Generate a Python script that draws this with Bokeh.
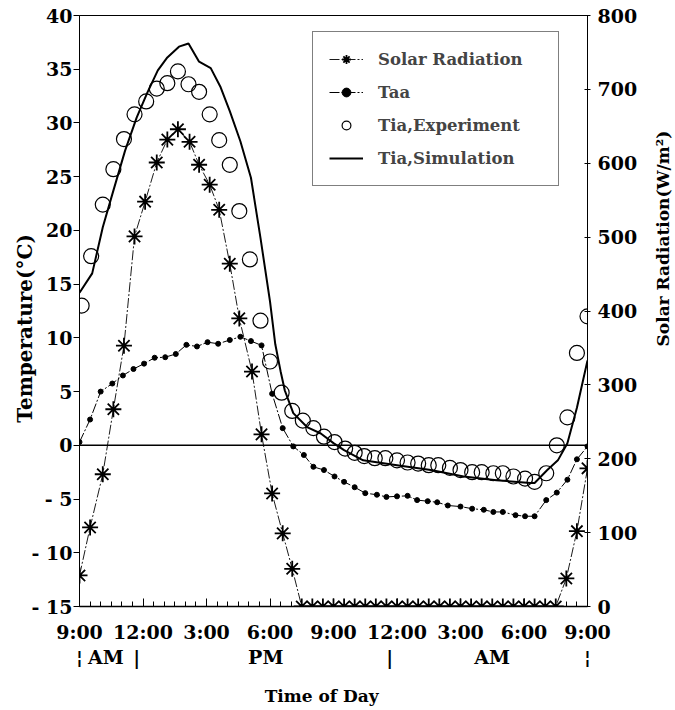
import math
from bokeh.plotting import figure
from bokeh.layouts import row
from bokeh.models import (Range1d, LinearAxis, FixedTicker, Span, Legend, LegendItem, Label)
from bokeh.embed import file_html
from bokeh.resources import INLINE

# ---------------- data (hours after 9:00 AM) ----------------
solar_h = [0, 0.5, 1.1, 1.6, 2.1, 2.6, 3.1, 3.65, 4.15, 4.65, 5.2, 5.65, 6.15, 6.6,
           7.1, 7.55, 8.15, 8.6, 9.1, 9.6, 10.05, 10.5, 11.0, 11.5, 12.0, 12.5, 13.0,
           13.5, 14.0, 14.5, 15.0, 15.5, 16.0, 16.5, 17.0, 17.5, 18.0, 18.5, 19.0,
           19.5, 20.0, 20.5, 21.0, 21.5, 22.0, 22.5, 23.0, 23.5, 24.0]
solar_w = [42, 107, 179, 267, 353, 501, 548, 601, 632, 646, 629, 598, 571, 537,
           464, 390, 318, 233, 153, 99, 51, 0, 0, 0, 0, 0, 0,
           0, 0, 0, 0, 0, 0, 0, 0, 0, 0, 0, 0,
           0, 0, 0, 0, 0, 0, 0, 38, 102, 187]

taa_h = [0, 0.5, 1.0, 1.55, 2.05, 2.55, 3.05, 3.55, 4.05, 4.55, 5.05, 5.55, 6.05,
         6.55, 7.1, 7.6, 8.1, 8.6, 9.1, 9.6, 10.1, 10.6, 11.05, 11.55, 12.05, 12.5,
         13.0, 13.5, 14.05, 14.5, 15.0, 15.5, 15.95, 16.45, 16.9, 17.4, 18.0, 18.55,
         19.1, 19.55, 20.0, 20.6, 21.05, 21.5, 22.05, 22.55, 23.05, 23.5, 24.0]
taa_t = [0.3, 2.4, 5.0, 5.75, 6.5, 7.1, 7.6, 8.15, 8.2, 8.5, 9.35, 9.2, 9.6,
         9.45, 9.8, 10.1, 9.7, 9.3, 4.8, 1.6, -0.1, -0.9, -2.0, -2.3, -2.9, -3.4,
         -3.9, -4.45, -4.6, -4.8, -4.75, -4.7, -5.1, -5.2, -5.3, -5.6, -5.7, -5.9,
         -6.0, -6.2, -6.2, -6.5, -6.6, -6.6, -5.1, -4.4, -3.2, -1.3, -0.1]

exp_h = [0.1, 0.55, 1.1, 1.6, 2.1, 2.6, 3.15, 3.65, 4.15, 4.65, 5.15, 5.65, 6.15,
         6.6, 7.1, 7.55, 8.05, 8.55, 9.0, 9.55, 10.05, 10.55, 11.05, 11.55, 12.05,
         12.55, 13.0, 13.45, 13.95, 14.45, 15.0, 15.5, 16.0, 16.5, 16.95, 17.5, 18.0,
         18.55, 19.0, 19.55, 20.0, 20.5, 21.05, 21.5, 22.05, 22.55, 23.05, 23.5, 24.0]
exp_t = [13.0, 17.6, 22.4, 25.7, 28.5, 30.8, 32.0, 33.2, 33.7, 34.8, 33.6, 32.9, 30.8,
         28.4, 26.1, 21.8, 17.3, 11.6, 7.8, 4.9, 3.2, 2.3, 1.6, 0.8, 0.3,
         -0.3, -0.7, -1.0, -1.2, -1.2, -1.4, -1.6, -1.7, -1.85, -1.85, -2.1, -2.3,
         -2.5, -2.5, -2.6, -2.6, -2.9, -3.1, -3.4, -2.6, 0.0, 2.6, 8.6, 12.0]

sim_h = [0, 0.6, 1.1, 1.6, 2.15, 2.7, 3.2, 3.7, 4.15, 4.7, 5.15, 5.65, 6.2, 6.65,
         7.1, 7.6, 8.1, 8.55, 9.0, 9.25, 9.5, 9.7, 10.1, 10.75, 11.4, 12.0, 12.5,
         13.4, 15.0, 16.6, 18.15, 19.7, 21.3, 21.5, 22.1, 22.6, 23.05, 23.5, 24.0]
sim_t = [14.2, 16.0, 20.3, 23.7, 27.4, 30.5, 32.8, 34.9, 36.1, 37.1, 37.4, 35.7, 35.1,
         33.4, 31.1, 28.3, 24.9, 19.3, 13.4, 9.4, 6.9, 5.1, 3.0, 1.7, 1.1, 0.2, -0.45,
         -1.4, -1.85, -2.3, -2.9, -3.25, -3.5, -3.5, -2.3, -1.4, 0.2, 3.5, 7.9]

x_ticks = [0, 3, 6, 9, 12, 15, 18, 21, 24]
x_tick_labels = ["9:00", "12:00", "3:00", "6:00", "9:00", "12:00", "3:00", "6:00", "9:00"]
y_ticks = [-15, -10, -5, 0, 5, 10, 15, 20, 25, 30, 35, 40]
y_tick_labels = ["- 15", "- 10", "- 5", "0", "5", "10", "15", "20", "25", "30", "35", "40"]
y2_ticks = [0, 100, 200, 300, 400, 500, 600, 700, 800]
period_pos = [1.25, 8.8, 19.5]
period_labels = ["AM", "PM", "AM"]
period_bar_pos = [0, 2.7, 14.65, 24]
period_bar_labels = ["\u00a6", "|", "|", "\u00a6"]

FONT = "DejaVu Serif"
NB = "\u00a0"

p = figure(width=651, height=710, output_backend="svg", toolbar_location=None,
           x_range=Range1d(0, 24), y_range=Range1d(-15, 40),
           min_border_left=79, min_border_right=64, min_border_top=15,
           min_border_bottom=104)
p.extra_y_ranges = {"solar": Range1d(0, 800)}
p.grid.visible = False
p.outline_line_color = "black"
p.outline_line_width = 1
p.background_fill_color = "white"
p.border_fill_color = "white"


def style_labels(ax, size="19px"):
    ax.major_label_text_font = FONT
    ax.major_label_text_font_style = "bold"
    ax.major_label_text_font_size = size
    ax.major_label_text_color = "black"
    ax.axis_label_text_font = FONT
    ax.axis_label_text_font_style = "bold"
    ax.axis_label_text_color = "black"


# x axis
xa = p.xaxis[0]
xa.ticker = FixedTicker(ticks=x_ticks, minor_ticks=[i * 0.5 for i in range(49)])
xa.major_label_overrides = {t: s for t, s in zip(x_ticks, x_tick_labels)}
xa.major_tick_in = 8
xa.major_tick_out = 0
xa.minor_tick_in = 5
xa.minor_tick_out = 0
xa.axis_line_width = 1.5
xa.major_label_standoff = 14
style_labels(xa)

# AM / PM row (second axis below, no line, no ticks)
pa = LinearAxis()
pa.ticker = FixedTicker(ticks=period_pos + period_bar_pos, minor_ticks=[])
pa.major_label_overrides = dict(list(zip(period_pos, period_labels)) +
                                list(zip(period_bar_pos, period_bar_labels)))
pa.axis_line_color = None
pa.major_tick_line_color = None
pa.minor_tick_line_color = None
pa.major_tick_out = 0
pa.major_tick_in = 0
pa.major_label_standoff = 0
style_labels(pa, "19px")
pa.axis_label = "Time of Day" + NB * 4
pa.axis_label_text_font_size = "17px"
pa.axis_label_standoff = 15
p.add_layout(pa, "below")

# left axis
ya = p.yaxis[0]
ya.ticker = FixedTicker(ticks=y_ticks)
ya.major_label_overrides = {t: s for t, s in zip(y_ticks, y_tick_labels)}
ya.major_tick_in = 0
ya.major_tick_out = 6
ya.minor_tick_line_color = None
ya.major_label_standoff = 1
style_labels(ya)
ya.axis_label = "Temperature(\u00b0C)" + NB * 5
ya.axis_label_text_font_size = "20px"
ya.axis_label_standoff = -8

# right axis (ticks and numbers)
ra = LinearAxis(y_range_name="solar")
ra.ticker = FixedTicker(ticks=y2_ticks)
ra.major_tick_in = 3
ra.major_tick_out = 3
ra.minor_tick_line_color = None
ra.major_label_standoff = 7
style_labels(ra)
p.add_layout(ra, "right")

# zero line
p.add_layout(Span(location=0, dimension="width", line_color="black", line_width=1.5))

# series
r_sim = p.line(sim_h, sim_t, line_color="black", line_width=2)
r_exp = p.scatter(exp_h, exp_t, marker="circle", size=15, fill_color=None,
                  line_color="black", line_width=1.2)
r_taa_l = p.line(taa_h, taa_t, line_color="black", line_width=1, line_dash="10 2 2 2")
r_taa_m = p.scatter(taa_h, taa_t, marker="circle", size=5, fill_color="black",
                    line_color="black")
r_sol_l = p.line(solar_h, solar_w, y_range_name="solar", line_color="black",
                 line_width=0.9, line_dash="10 2 2 2")
r_sol_m = p.scatter(solar_h, solar_w, y_range_name="solar", marker="asterisk",
                    size=16, line_color="black", line_width=1.8)

legend = Legend(items=[
    LegendItem(label="Solar Radiation", renderers=[r_sol_l, r_sol_m]),
    LegendItem(label="Taa", renderers=[r_taa_l, r_taa_m]),
    LegendItem(label="Tia,Experiment", renderers=[r_exp]),
    LegendItem(label="Tia,Simulation", renderers=[r_sim]),
], location=(233, 420))
legend.label_text_font = FONT
legend.label_text_font_style = "bold"
legend.label_text_font_size = "16.5px"
legend.glyph_width = 34
legend.glyph_height = 22
legend.label_height = 22
legend.label_width = 164
legend.label_standoff = 15
legend.spacing = 11
legend.padding = 16
legend.margin = 0
legend.border_line_color = "black"
legend.border_line_width = 1
legend.background_fill_alpha = 1.0
p.add_layout(legend)

# narrow strip to the right carrying the right-axis title
t = figure(width=24, height=710, output_backend="svg", toolbar_location=None,
           x_range=Range1d(0, 24), y_range=Range1d(0, 710),
           x_axis_location=None, y_axis_location=None,
           min_border_left=0, min_border_right=0, min_border_top=0,
           min_border_bottom=0)
t.grid.visible = False
t.outline_line_color = None
t.background_fill_color = "white"
t.border_fill_color = "white"
t.add_layout(Label(x=11, y=442, text="Solar Radiation(W/m\u00b2)", angle=math.pi / 2,
                   text_align="center", text_baseline="middle",
                   text_font=FONT, text_font_style="bold", text_font_size="17px",
                   text_color="black"))

layout = row(p, t, spacing=0)
open("out.html", "w").write(file_html(layout, INLINE))
